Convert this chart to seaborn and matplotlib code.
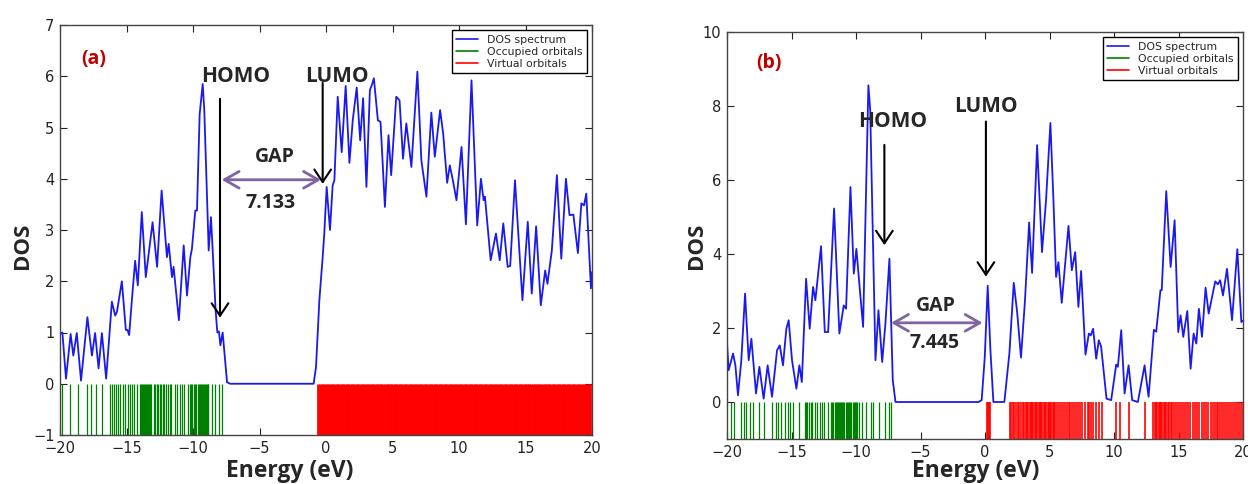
import matplotlib
matplotlib.use("Agg")
import matplotlib.pyplot as plt
from matplotlib.lines import Line2D
import seaborn as sns

# ---------------- data ----------------
# Panel (a): DOS spectrum
dos_a_energy = [-20.0, -19.82, -19.55, -19.2, -19.0, -18.74, -18.42, -17.94, -17.6, -17.36,
                -17.1, -16.85, -16.53, -16.1, -15.85, -15.72, -15.35, -15.05, -14.93, -14.8,
                -14.6, -14.35, -14.15, -13.85, -13.55, -13.04, -12.7, -12.36, -11.96, -11.83,
                -11.58, -11.46, -11.06, -10.7, -10.45, -10.2, -10.08, -9.83, -9.7, -9.5,
                -9.27, -9.15, -8.82, -8.65, -8.52, -8.3, -8.17, -8.05, -7.94, -7.77,
                -7.44, -7.2, -0.93, -0.75, -0.5, -0.25, -0.13, 0.05, 0.3, 0.5,
                0.63, 0.88, 1.18, 1.48, 1.76, 2.01, 2.31, 2.57, 2.79, 3.04,
                3.3, 3.45, 3.6, 3.9, 4.1, 4.43, 4.7, 4.9, 5.28, 5.53,
                5.79, 6.04, 6.42, 6.87, 7.17, 7.55, 7.92, 8.18, 8.58, 8.81,
                9.11, 9.31, 9.56, 9.81, 10.19, 10.52, 10.94, 11.37, 11.65, 11.85,
                11.95, 12.38, 12.78, 13.06, 13.33, 13.66, 13.85, 14.21, 14.77, 15.17,
                15.47, 15.8, 16.15, 16.48, 16.65, 16.98, 17.36, 17.69, 18.04, 18.31,
                18.6, 18.94, 19.2, 19.4, 19.57, 19.92, 20.0]
dos_a_value = [0.97, 1.0, 0.1, 0.97, 0.55, 0.99, 0.06, 1.3, 0.55, 0.99,
               0.3, 0.99, 0.1, 1.6, 1.33, 1.4, 2.0, 1.05, 1.05, 0.95,
               1.62, 2.4, 1.92, 3.35, 2.08, 3.15, 2.28, 3.77, 2.47, 2.73,
               2.08, 2.28, 1.24, 2.7, 1.72, 2.47, 2.63, 3.38, 3.38, 5.26,
               5.85, 5.33, 2.6, 3.25, 2.6, 1.43, 1.0, 1.02, 0.75, 1.0,
               0.03, 0.0, 0.0, 0.33, 1.63, 2.47, 2.93, 3.84, 3.0, 3.87,
               3.97, 5.6, 4.52, 5.81, 4.31, 5.14, 5.78, 4.75, 5.57, 3.84,
               5.73, 5.83, 5.96, 5.14, 5.11, 3.45, 4.85, 4.07, 5.6, 5.53,
               4.39, 5.08, 4.23, 6.09, 4.36, 3.65, 5.29, 4.43, 5.34, 4.88,
               3.92, 4.26, 3.94, 3.58, 4.62, 3.11, 5.92, 3.09, 4.0, 3.58,
               3.65, 2.41, 2.93, 2.41, 3.13, 2.28, 2.3, 3.97, 1.63, 3.16,
               1.76, 3.07, 1.53, 2.21, 1.95, 2.6, 4.07, 2.44, 4.0, 3.29,
               3.3, 2.55, 3.52, 3.48, 3.71, 1.86, 2.18]

occupied_a = [-19.82, -19.25, -18.67, -17.95, -17.69, -17.32, -16.87, -16.24, -16.12, -15.96,
              -15.79, -15.61, -15.49, -15.24, -15.11, -14.91, -14.74, -14.56, -14.44, -14.24,
              -13.98, -13.9, -13.82, -13.75, -13.68, -13.6, -13.52, -13.45, -13.38, -13.3,
              -13.22, -13.15, -12.95, -12.85, -12.72, -12.6, -12.5, -12.4, -12.28, -12.15,
              -12.05, -11.9, -11.75, -11.62, -11.35, -11.2, -11.0, -10.8, -10.65, -10.35,
              -10.25, -10.15, -10.05, -9.95, -9.85, -9.75, -9.65, -9.58, -9.5, -9.42,
              -9.35, -9.28, -9.2, -9.12, -9.05, -8.98, -8.9, -8.85, -8.6, -8.35,
              -8.05, -7.8]

virtual_a = [-0.58, -0.46, -0.33, -0.2, -0.09, 0.05, 0.17, 0.3, 0.43, 0.55,
             0.67, 0.8, 0.93, 1.05, 1.17, 1.3, 1.43, 1.55, 1.68, 1.8,
             1.92, 2.05, 2.18, 2.3, 2.43, 2.56, 2.68, 2.8, 2.93, 3.05,
             3.17, 3.3, 3.43, 3.55, 3.68, 3.8, 3.92, 4.05, 4.17, 4.3,
             4.43, 4.55, 4.68, 4.8, 4.92, 5.05, 5.17, 5.3, 5.43, 5.55,
             5.67, 5.8, 5.93, 6.05, 6.18, 6.3, 6.42, 6.55, 6.67, 6.8,
             6.93, 7.05, 7.18, 7.3, 7.42, 7.55, 7.68, 7.8, 7.92, 8.05,
             8.17, 8.3, 8.43, 8.55, 8.68, 8.8, 8.92, 9.05, 9.18, 9.3,
             9.42, 9.55, 9.68, 9.8, 9.92, 10.05, 10.18, 10.3, 10.42, 10.55,
             10.68, 10.8, 10.93, 11.05, 11.17, 11.3, 11.43, 11.55, 11.68, 11.8,
             11.92, 12.05, 12.18, 12.3, 12.42, 12.55, 12.68, 12.8, 12.93, 13.05,
             13.17, 13.3, 13.43, 13.55, 13.68, 13.8, 13.92, 14.05, 14.18, 14.3,
             14.43, 14.55, 14.68, 14.8, 14.93, 15.05, 15.17, 15.3, 15.43, 15.55,
             15.68, 15.8, 15.92, 16.05, 16.18, 16.3, 16.43, 16.55, 16.67, 16.8,
             16.93, 17.05, 17.18, 17.3, 17.43, 17.55, 17.67, 17.8, 17.92, 18.05,
             18.18, 18.3, 18.43, 18.55, 18.67, 18.8, 18.93, 19.05, 19.18, 19.3,
             19.42, 19.55, 19.68, 19.8, 19.87]

# Panel (b): DOS spectrum
dos_b_energy = [-20.0, -19.87, -19.53, -19.35, -19.15, -18.89, -18.6, -18.32, -18.11, -17.75,
                -17.49, -17.16, -16.85, -16.51, -16.12, -15.91, -15.66, -15.4, -15.22, -14.96,
                -14.62, -14.39, -14.2, -13.87, -13.59, -13.33, -13.15, -12.71, -12.42, -12.16,
                -11.7, -11.29, -10.95, -10.77, -10.43, -10.17, -9.97, -9.73, -9.45, -9.04,
                -8.9, -8.49, -8.26, -7.97, -7.72, -7.41, -7.15, -6.94, -0.5, -0.26,
                -0.02, 0.21, 0.42, 0.65, 1.5, 1.89, 2.23, 2.5, 2.79, 3.1,
                3.42, 3.65, 4.04, 4.42, 4.73, 5.07, 5.3, 5.51, 5.69, 5.95,
                6.47, 6.73, 6.99, 7.24, 7.45, 7.79, 8.05, 8.2, 8.38, 8.62,
                8.82, 9.0, 9.42, 9.78, 10.17, 10.3, 10.56, 10.82, 11.13, 11.41,
                11.85, 12.37, 12.68, 13.09, 13.27, 13.6, 13.7, 14.05, 14.39, 14.7,
                14.98, 15.16, 15.37, 15.68, 15.94, 16.17, 16.38, 16.58, 16.82, 17.1,
                17.34, 17.85, 18.05, 18.23, 18.45, 18.76, 19.15, 19.56, 19.87, 20.0]
dos_b_value = [1.58, 0.86, 1.31, 0.99, 0.18, 1.13, 2.93, 1.13, 1.71, 0.23,
               0.95, 0.09, 0.99, 0.14, 1.4, 1.53, 0.99, 1.98, 2.21, 1.13,
               0.36, 0.99, 0.54, 3.33, 1.98, 3.11, 2.75, 4.21, 1.89, 1.89,
               5.23, 1.85, 2.61, 2.52, 5.81, 3.47, 4.14, 3.15, 2.03, 8.56,
               7.9, 1.13, 2.48, 1.08, 2.12, 3.87, 0.59, 0.0, 0.0, 0.05,
               1.2, 3.14, 1.4, 0.0, 0.0, 1.31, 3.22, 2.4, 1.2, 2.75,
               4.85, 3.49, 6.94, 4.05, 5.45, 7.54, 5.5, 3.38, 3.78, 2.68,
               4.76, 3.56, 4.05, 2.57, 3.54, 1.28, 1.85, 1.8, 1.98, 1.17,
               1.67, 1.5, 0.09, 0.05, 1.01, 0.95, 1.94, 0.23, 0.99, 0.05,
               0.0, 0.99, 0.14, 1.95, 1.9, 3.02, 3.02, 5.7, 3.65, 4.91,
               1.89, 2.34, 1.76, 2.46, 0.9, 1.85, 1.58, 2.52, 1.76, 3.09,
               2.39, 3.26, 3.18, 3.29, 2.88, 3.6, 2.21, 4.13, 2.16, 2.2]

occupied_b = [-19.69, -19.43, -18.89, -18.71, -18.52, -18.19, -17.98, -17.54, -17.15, -16.5,
              -16.24, -16.06, -15.78, -15.47, -15.29, -15.08, -14.87, -14.38, -13.97, -13.86,
              -13.76, -13.65, -13.52, -13.4, -13.19, -13.01, -12.8, -12.67, -12.49, -12.15,
              -11.97, -11.84, -11.75, -11.66, -11.58, -11.5, -11.42, -11.33, -11.25, -11.17,
              -11.08, -11.0, -10.9, -10.8, -10.72, -10.63, -10.55, -10.45, -10.36, -10.27,
              -10.18, -10.09, -10.0, -9.9, -9.77, -9.56, -9.25, -8.86, -8.65, -8.21,
              -7.75, -7.44, -7.31]

virtual_b = [0.15, 0.22, 0.3, 0.38,
             1.9, 2.02, 2.15, 2.28, 2.4, 2.53, 2.66, 2.8, 2.92, 3.05,
             3.15, 3.25, 3.35, 3.45, 3.55, 3.65, 3.75, 3.85, 3.95, 4.05,
             4.15, 4.25, 4.35, 4.45, 4.55, 4.65, 4.75, 4.85, 4.95, 5.05,
             5.15, 5.25, 5.35, 5.45, 5.6, 5.75, 5.9, 6.05, 6.2, 6.35,
             6.5, 6.62, 6.75, 6.9, 7.05, 7.2, 7.38, 7.55, 7.75, 7.95,
             8.1, 8.25, 8.4, 8.6, 8.8, 9.05,
             10.12, 10.5, 11.15, 12.44,
             13.02, 13.15, 13.25, 13.35, 13.45, 13.55, 13.65, 13.75, 13.85, 13.95,
             14.05, 14.15, 14.25, 14.38, 14.5, 14.65, 14.8, 14.95, 15.1, 15.25,
             15.45, 15.6, 15.75, 15.9, 16.1, 16.25, 16.45, 16.6, 16.8, 17.0,
             17.15, 17.3, 17.5, 17.65, 17.8, 17.95, 18.1, 18.25, 18.4, 18.55,
             18.7, 18.85, 19.0, 19.15, 19.3, 19.45, 19.6, 19.75, 19.9]

x_ticks = [-20, -15, -10, -5, 0, 5, 10, 15, 20]
y_ticks_a = [-1, 0, 1, 2, 3, 4, 5, 6, 7]
y_ticks_b = [0, 2, 4, 6, 8, 10]
legend_labels = ["DOS spectrum", "Occupied orbitals", "Virtual orbitals"]
gap_a = "7.133"
gap_b = "7.445"

# ---------------- style ----------------
sns.set_style("ticks", {"xtick.direction": "in", "ytick.direction": "in",
                        "axes.edgecolor": "#444444"})
plt.rcParams["font.family"] = ["DejaVu Sans"]
plt.rcParams.update({
    "xtick.top": True, "ytick.right": True,
    "xtick.major.size": 5, "ytick.major.size": 5,
    "xtick.major.width": 0.8, "ytick.major.width": 0.8,
    "xtick.labelsize": 10.5, "ytick.labelsize": 10.5,
    "xtick.major.pad": 4.5, "ytick.major.pad": 4.0,
    "xtick.color": "#222222", "ytick.color": "#222222",
    "axes.linewidth": 1.0,
})

W, H = 1248, 484
fig = plt.figure(figsize=(W / 100, H / 100), dpi=100)
ax_a = fig.add_axes([60 / W, 49 / H, 532 / W, 410 / H])
ax_b = fig.add_axes([727 / W, 45 / H, 516 / W, 407 / H])

BOLD = dict(family=["Open Sans", "DejaVu Sans"], fontweight="bold")
PURPLE = "#8064a2"
BLUE = "#1a1aee"


def draw_panel(ax, e, v, occ, virt, ylim, yticks, rug_h, occ_lw, virt_lw):
    sns.lineplot(x=e, y=v, ax=ax, color=BLUE, linewidth=1.3, estimator=None, sort=False)
    sns.rugplot(x=occ, ax=ax, height=rug_h, color="#008000", linewidth=occ_lw,
                expand_margins=False)
    sns.rugplot(x=virt, ax=ax, height=rug_h, color="#ff0000", linewidth=virt_lw,
                expand_margins=False)
    ax.set_xlim(-20, 20)
    ax.set_ylim(*ylim)
    ax.set_xticks(x_ticks)
    ax.set_yticks(yticks)
    ax.set_xlabel("")
    ax.set_ylabel("")
    for s in ax.spines.values():
        s.set_visible(True)
    handles = [Line2D([], [], color=BLUE, lw=1.2),
               Line2D([], [], color="#008000", lw=1.2),
               Line2D([], [], color="#ff0000", lw=1.2)]
    leg = ax.legend(handles, legend_labels, loc="upper right", fontsize=7.8,
                    frameon=True, fancybox=False, edgecolor="black", framealpha=1,
                    borderaxespad=0.5, handlelength=2.0, labelspacing=0.2)
    leg.get_frame().set_linewidth(1.0)


def arrow(ax, x0, y0, x1, y1, color, style, lw):
    ax.annotate("", xy=(x1, y1), xytext=(x0, y0),
                arrowprops=dict(arrowstyle=style, color=color, lw=lw,
                                shrinkA=0, shrinkB=0, mutation_scale=15))


BLACK_HEAD = "->,head_length=0.6,head_width=0.4"
GAP_HEAD = "<->,head_length=0.7,head_width=0.4"

# Panel (a)
draw_panel(ax_a, dos_a_energy, dos_a_value, occupied_a, virtual_a, (-1, 7), y_ticks_a, 1 / 8,
           0.9, 2.0)
ax_a.text(-17.44, 6.34, "(a)", color="#c00000", fontsize=14, ha="center", va="center", **BOLD)
ax_a.text(-6.77, 5.99, "HOMO", fontsize=15, ha="center", va="center", **BOLD)
ax_a.text(0.85, 5.99, "LUMO", fontsize=15, ha="center", va="center", **BOLD)
arrow(ax_a, -7.97, 5.56, -7.97, 1.29, "black", BLACK_HEAD, 1.5)
arrow(ax_a, -0.25, 5.87, -0.25, 3.9, "black", BLACK_HEAD, 1.5)
arrow(ax_a, -7.84, 3.98, -0.38, 3.98, PURPLE, GAP_HEAD, 2.0)
ax_a.text(-3.83, 4.43, "GAP", fontsize=14, ha="center", va="center", **BOLD)
ax_a.text(-4.16, 3.53, gap_a, fontsize=14, ha="center", va="center", **BOLD)

# Panel (b)
draw_panel(ax_b, dos_b_energy, dos_b_value, occupied_b, virtual_b, (-1, 10), y_ticks_b, 1 / 11,
           0.9, 1.2)
ax_b.text(-16.74, 9.16, "(b)", color="#c00000", fontsize=14, ha="center", va="center", **BOLD)
ax_b.text(-7.18, 7.59, "HOMO", fontsize=15, ha="center", va="center", **BOLD)
ax_b.text(0.05, 8.0, "LUMO", fontsize=15, ha="center", va="center", **BOLD)
arrow(ax_b, -7.8, 6.95, -7.8, 4.24, "black", BLACK_HEAD, 1.5)
arrow(ax_b, 0.07, 7.58, 0.07, 3.39, "black", BLACK_HEAD, 1.5)
arrow(ax_b, -7.28, 2.14, -0.19, 2.14, PURPLE, GAP_HEAD, 2.0)
ax_b.text(-3.8, 2.6, "GAP", fontsize=14, ha="center", va="center", **BOLD)
ax_b.text(-3.94, 1.6, gap_b, fontsize=14, ha="center", va="center", **BOLD)

# Axis labels (placed as in the reference)
fig.text(23 / W, 1 - 246 / H, "DOS", rotation=90, fontsize=16, ha="center", va="center", **BOLD)
fig.text(696 / W, 1 - 246 / H, "DOS", rotation=90, fontsize=16, ha="center", va="center", **BOLD)
fig.text(290 / W, 1 / H, "Energy (eV)", fontsize=16.5, ha="center", va="bottom", **BOLD)
fig.text(976 / W, 1 / H, "Energy (eV)", fontsize=16.5, ha="center", va="bottom", **BOLD)

fig.savefig("out.png", dpi=100)
